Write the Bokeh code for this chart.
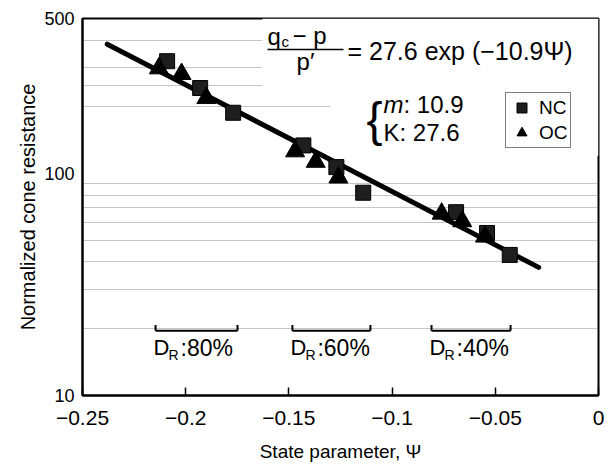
import math
from bokeh.plotting import figure
from bokeh.models import (FixedTicker, Label, BoxAnnotation, Legend, LegendItem,
                          ColumnDataSource)
from bokeh.embed import file_html
from bokeh.resources import INLINE

# ---------------- data ----------------
nc_psi = [-0.209, -0.193, -0.177, -0.143, -0.127, -0.114, -0.069, -0.054, -0.043]
nc_q = [321, 243, 188, 134, 107, 82, 67, 54, 43]

oc_psi = [-0.213, -0.202, -0.190, -0.147, -0.137, -0.126, -0.076, -0.066, -0.055]
oc_q = [298, 281, 219, 126, 113, 96, 66, 61, 52]

fit_psi = [-0.238, -0.029]
fit_q = [383, 37.8]

x_ticks = [-0.25, -0.2, -0.15, -0.1, -0.05, 0]
x_tick_labels = ["\u22120.25", "\u22120.2", "\u22120.15", "\u22120.1", "\u22120.05", "0"]
y_ticks = [10, 100, 500]
y_grid = [20, 30, 40, 50, 60, 70, 80, 90, 200, 250, 300, 400]

dr_names = ["80%", "60%", "40%"]
dr_lo = [-0.2146, -0.1483, -0.0809]
dr_hi = [-0.1749, -0.1105, -0.0426]
dr_level = 19.6
dr_end = 20.8

FONT = "Liberation Sans"

# frame in pixels (for placing annotations)
FL, FR, FT, FB = 82, 598, 18, 397
W, H = 612, 464


def dx(px):
    return -0.25 + (px - FL) / (FR - FL) * 0.25


def dy(py):
    return 10 ** (1 + (FB - py) / (FB - FT) * math.log10(50))


def label(px, py, text, size, align="left", style="normal"):
    p.add_layout(Label(x=dx(px), y=dy(py), text=text, text_font=FONT,
                       text_font_size=f"{size}px", text_font_style=style,
                       text_color="black", text_baseline="middle", text_align=align))


p = figure(width=W, height=H, y_axis_type="log", x_range=(-0.25, 0), y_range=(10, 500),
           output_backend="svg", toolbar_location=None,
           min_border_left=FL, min_border_right=W - FR, min_border_top=FT,
           min_border_bottom=H - FB)
p.background_fill_color = "white"
p.border_fill_color = "white"
p.outline_line_color = "black"
p.outline_line_width = 2

# axes
p.xaxis.ticker = FixedTicker(ticks=x_ticks)
p.xaxis.major_label_overrides = {t: l for t, l in zip(x_ticks, x_tick_labels)}
p.xaxis.major_tick_in = 8
p.xaxis.major_tick_out = 0
p.xaxis.minor_tick_in = 0
p.xaxis.minor_tick_out = 0
p.xaxis.major_label_standoff = 15
p.xaxis.axis_label = "State parameter, \u03a8"
p.xaxis.axis_label_standoff = 13

p.yaxis.ticker = FixedTicker(ticks=y_ticks)
p.yaxis.major_label_overrides = {10: "10", 100: "100", 500: "500"}
p.yaxis.major_tick_in = 0
p.yaxis.major_tick_out = 0
p.yaxis.minor_tick_in = 0
p.yaxis.minor_tick_out = 0
p.yaxis.major_label_standoff = 8
p.yaxis.axis_label = "Normalized cone resistance"
p.yaxis.axis_label_standoff = 2

for ax in (p.xaxis, p.yaxis):
    ax.axis_line_color = "black"
    ax.axis_line_width = 2
    ax.major_tick_line_color = "black"
    ax.major_tick_line_width = 1.5
    ax.major_label_text_font = FONT
    ax.major_label_text_color = "black"
    ax.axis_label_text_font = FONT
    ax.axis_label_text_font_style = "normal"
    ax.axis_label_text_color = "black"
p.xaxis.major_label_text_font_size = "21px"
p.yaxis.major_label_text_font_size = "18px"
p.xaxis.axis_label_text_font_size = "19px"
p.yaxis.axis_label_text_font_size = "20px"

# grid
p.xgrid.grid_line_color = None
p.ygrid.ticker = FixedTicker(ticks=y_grid)
p.ygrid.grid_line_color = "#8c8c8c"
p.ygrid.grid_line_dash = "1 1"
p.ygrid.grid_line_width = 1

# white areas behind the equation and the legend (hide the grid there)
p.add_layout(BoxAnnotation(left=dx(262), bottom=dy(95), fill_color="white", fill_alpha=1,
                           line_color=None, level="underlay"))
p.add_layout(BoxAnnotation(left=dx(330), top=dy(95), bottom=dy(156), fill_color="white",
                           fill_alpha=1, line_color=None, level="underlay"))

# fitted line
p.line(fit_psi, fit_q, line_color="black", line_width=5, line_cap="round")

# data points
nc_src = ColumnDataSource(dict(x=nc_psi, y=nc_q))
oc_src = ColumnDataSource(dict(x=oc_psi, y=oc_q))
r_nc = p.scatter("x", "y", source=nc_src, marker="square", size=15,
                 fill_color="#1e1e1e", line_color="black", line_width=1)
r_oc = p.scatter("x", "y", source=oc_src, marker="triangle", size=19,
                 fill_color="black", line_color="black", line_width=1)

# D_R brackets
p.segment(x0=dr_lo, y0=[dr_level] * 3, x1=dr_hi, y1=[dr_level] * 3,
          line_color="black", line_width=2)
p.segment(x0=dr_lo + dr_hi, y0=[dr_level] * 6, x1=dr_lo + dr_hi, y1=[dr_end] * 6,
          line_color="black", line_width=2)

for lo, name in zip(dr_lo, dr_names):
    x0 = FL + (lo + 0.25) / 0.25 * (FR - FL) - 2
    label(x0, 349, "D", 22)
    label(x0 + 15, 356, "R", 14)
    label(x0 + 27, 349, ":" + name, 23)

# equation
label(267, 36, "q", 24)
label(281, 41, "c", 15)
label(292, 35, "\u2212 p", 24)
p.add_layout(BoxAnnotation(left=dx(267), right=dx(343), top=dy(48.3), bottom=dy(49.8),
                           fill_color="black", fill_alpha=1, line_color=None))
label(305, 61, "p\u2032", 24, align="center")
label(347, 51, "= 27.6 exp (\u221210.9\u03a8)", 25)

# parameters
label(366, 120, "{", 48)
label(383, 104, "m", 24, style="italic")
label(403, 104, ": 10.9", 24)
label(383, 133, "K: 27.6", 24)

# legend
legend = Legend(items=[LegendItem(label="NC", renderers=[r_nc]),
                       LegendItem(label="OC", renderers=[r_oc])],
                location=(505 - FL, FB - 150))
legend.border_line_color = "black"
legend.border_line_width = 1
legend.background_fill_color = "white"
legend.background_fill_alpha = 1
legend.padding = 2
legend.spacing = 0
legend.margin = 0
legend.glyph_height = 25
legend.glyph_width = 27
legend.label_standoff = 4
legend.label_text_font = FONT
legend.label_text_font_size = "19px"
legend.label_text_color = "black"
legend.label_height = 25
p.add_layout(legend)

open("out.html", "w").write(file_html(p, INLINE))
